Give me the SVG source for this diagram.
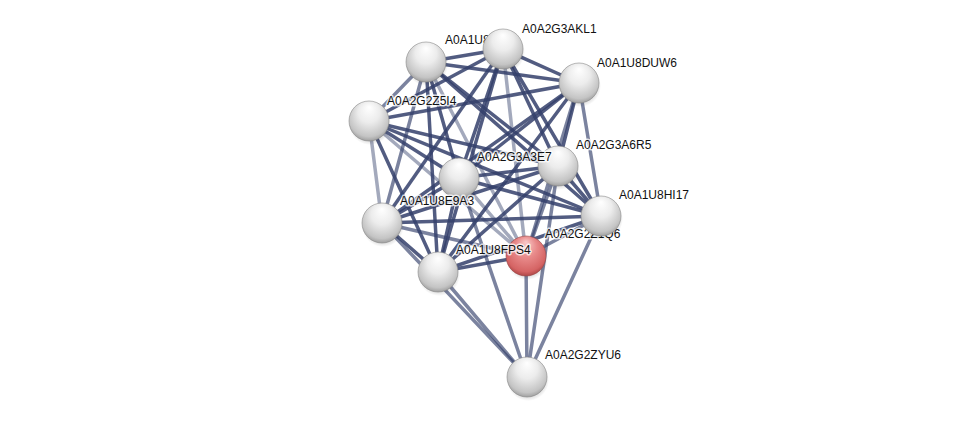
<svg xmlns="http://www.w3.org/2000/svg" width="975" height="422" viewBox="0 0 975 422">
<defs>
<radialGradient id="gw" cx="0.5" cy="0.42" r="0.6" fx="0.5" fy="0.15">
<stop offset="0" stop-color="#ffffff"/>
<stop offset="0.45" stop-color="#ececec"/>
<stop offset="0.85" stop-color="#c4c4c4"/>
<stop offset="1" stop-color="#9a9a9a"/>
</radialGradient>
<radialGradient id="gr" cx="0.5" cy="0.42" r="0.6" fx="0.5" fy="0.15">
<stop offset="0" stop-color="#f8c8c8"/>
<stop offset="0.45" stop-color="#e88a8a"/>
<stop offset="0.85" stop-color="#d56464"/>
<stop offset="1" stop-color="#a84242"/>
</radialGradient>
<radialGradient id="sh" cx="0.5" cy="0.5" r="0.5">
<stop offset="0.6" stop-color="#000" stop-opacity="0.25"/>
<stop offset="1" stop-color="#000" stop-opacity="0"/>
</radialGradient>
</defs>
<style>
.e{stroke:#34406b;stroke-width:3.5;fill:none;stroke-linecap:round}
.a{stroke-opacity:0.85}
.b{stroke-opacity:0.65}
.c{stroke-opacity:0.45}
.n{stroke:#8a8a8a;stroke-width:0.6}
.t{font-family:"Liberation Sans",Arial,sans-serif;font-size:12px;fill:#111;stroke:#ffffff;stroke-width:3;stroke-opacity:0.75;paint-order:stroke;stroke-linejoin:round}
</style>
<rect width="975" height="422" fill="#ffffff"/>
<g id="edges">
<line class="e a" x1="426" y1="62" x2="503" y2="49"/>
<line class="e a" x1="426" y1="62" x2="579" y2="83"/>
<line class="e b" x1="426" y1="62" x2="369" y2="121"/>
<line class="e a" x1="426" y1="62" x2="459" y2="178"/>
<line class="e a" x1="426" y1="62" x2="558" y2="166"/>
<line class="e a" x1="426" y1="62" x2="601" y2="216"/>
<line class="e b" x1="426" y1="62" x2="382" y2="223"/>
<line class="e a" x1="426" y1="62" x2="438" y2="272"/>
<line class="e c" x1="426" y1="62" x2="526" y2="256"/>
<line class="e a" x1="503" y1="49" x2="579" y2="83"/>
<line class="e a" x1="503" y1="49" x2="369" y2="121"/>
<line class="e a" x1="503" y1="49" x2="459" y2="178"/>
<line class="e a" x1="503" y1="49" x2="558" y2="166"/>
<line class="e a" x1="503" y1="49" x2="601" y2="216"/>
<line class="e a" x1="503" y1="49" x2="382" y2="223"/>
<line class="e a" x1="503" y1="49" x2="438" y2="272"/>
<line class="e c" x1="503" y1="49" x2="526" y2="256"/>
<line class="e a" x1="579" y1="83" x2="369" y2="121"/>
<line class="e a" x1="579" y1="83" x2="459" y2="178"/>
<line class="e a" x1="579" y1="83" x2="558" y2="166"/>
<line class="e b" x1="579" y1="83" x2="601" y2="216"/>
<line class="e a" x1="579" y1="83" x2="382" y2="223"/>
<line class="e a" x1="579" y1="83" x2="438" y2="272"/>
<line class="e b" x1="579" y1="83" x2="526" y2="256"/>
<line class="e a" x1="369" y1="121" x2="459" y2="178"/>
<line class="e a" x1="369" y1="121" x2="558" y2="166"/>
<line class="e a" x1="369" y1="121" x2="601" y2="216"/>
<line class="e c" x1="369" y1="121" x2="382" y2="223"/>
<line class="e a" x1="369" y1="121" x2="438" y2="272"/>
<line class="e c" x1="369" y1="121" x2="526" y2="256"/>
<line class="e a" x1="558" y1="166" x2="459" y2="178"/>
<line class="e a" x1="558" y1="166" x2="601" y2="216"/>
<line class="e a" x1="558" y1="166" x2="382" y2="223"/>
<line class="e a" x1="558" y1="166" x2="438" y2="272"/>
<line class="e b" x1="558" y1="166" x2="526" y2="256"/>
<line class="e a" x1="459" y1="178" x2="601" y2="216"/>
<line class="e a" x1="459" y1="178" x2="382" y2="223"/>
<line class="e a" x1="459" y1="178" x2="438" y2="272"/>
<line class="e c" x1="459" y1="178" x2="526" y2="256"/>
<line class="e a" x1="601" y1="216" x2="382" y2="223"/>
<line class="e a" x1="601" y1="216" x2="438" y2="272"/>
<line class="e b" x1="601" y1="216" x2="526" y2="256"/>
<line class="e a" x1="382" y1="223" x2="438" y2="272"/>
<line class="e b" x1="382" y1="223" x2="526" y2="256"/>
<line class="e a" x1="438" y1="272" x2="526" y2="256"/>
<line class="e b" x1="527" y1="377" x2="438" y2="272"/>
<line class="e b" x1="527" y1="377" x2="382" y2="223"/>
<line class="e b" x1="527" y1="377" x2="459" y2="178"/>
<line class="e b" x1="527" y1="377" x2="526" y2="256"/>
<line class="e b" x1="527" y1="377" x2="558" y2="166"/>
<line class="e b" x1="527" y1="377" x2="601" y2="216"/>
</g>
<g id="n-A0A1U8">
<circle cx="427" cy="65" r="21" fill="url(#sh)"/>
<circle class="n" cx="426" cy="62" r="20" fill="url(#gw)"/>
<text class="t" x="445" y="44">A0A1U8</text>
</g>
<g id="n-A0A2G3AKL1">
<circle cx="504" cy="52" r="21" fill="url(#sh)"/>
<circle class="n" cx="503" cy="49" r="20" fill="url(#gw)"/>
<text class="t" x="522" y="33">A0A2G3AKL1</text>
</g>
<g id="n-A0A1U8DUW6">
<circle cx="580" cy="86" r="21" fill="url(#sh)"/>
<circle class="n" cx="579" cy="83" r="20" fill="url(#gw)"/>
<text class="t" x="597" y="67">A0A1U8DUW6</text>
</g>
<g id="n-A0A2G2Z5I4">
<circle cx="370" cy="124" r="21" fill="url(#sh)"/>
<circle class="n" cx="369" cy="121" r="20" fill="url(#gw)"/>
<text class="t" x="387" y="105">A0A2G2Z5I4</text>
</g>
<g id="n-A0A2G3A6R5">
<circle cx="559" cy="169" r="21" fill="url(#sh)"/>
<circle class="n" cx="558" cy="166" r="20" fill="url(#gw)"/>
<text class="t" x="576" y="149">A0A2G3A6R5</text>
</g>
<g id="n-A0A2G3A3E7">
<circle cx="460" cy="181" r="21" fill="url(#sh)"/>
<circle class="n" cx="459" cy="178" r="20" fill="url(#gw)"/>
<text class="t" x="477" y="161">A0A2G3A3E7</text>
</g>
<g id="n-A0A1U8E9A3">
<circle cx="383" cy="226" r="21" fill="url(#sh)"/>
<circle class="n" cx="382" cy="223" r="20" fill="url(#gw)"/>
<text class="t" x="400" y="205">A0A1U8E9A3</text>
</g>
<g id="n-A0A2G2Z1Q6">
<circle cx="527" cy="259" r="21" fill="url(#sh)"/>
<circle cx="526" cy="256" r="20" fill="url(#gr)" stroke="#9a4a4a" stroke-width="0.6"/>
<text class="t" x="545" y="238">A0A2G2Z1Q6</text>
</g>
<g id="n-A0A1U8HI17">
<circle cx="602" cy="219" r="21" fill="url(#sh)"/>
<circle class="n" cx="601" cy="216" r="20" fill="url(#gw)"/>
<text class="t" x="619" y="199">A0A1U8HI17</text>
</g>
<g id="n-A0A1U8FPS4">
<circle cx="439" cy="275" r="21" fill="url(#sh)"/>
<circle class="n" cx="438" cy="272" r="20" fill="url(#gw)"/>
<text class="t" x="456" y="254">A0A1U8FPS4</text>
</g>
<g id="n-A0A2G2ZYU6">
<circle cx="528" cy="380" r="21" fill="url(#sh)"/>
<circle class="n" cx="527" cy="377" r="20" fill="url(#gw)"/>
<text class="t" x="545" y="359">A0A2G2ZYU6</text>
</g>
</svg>
